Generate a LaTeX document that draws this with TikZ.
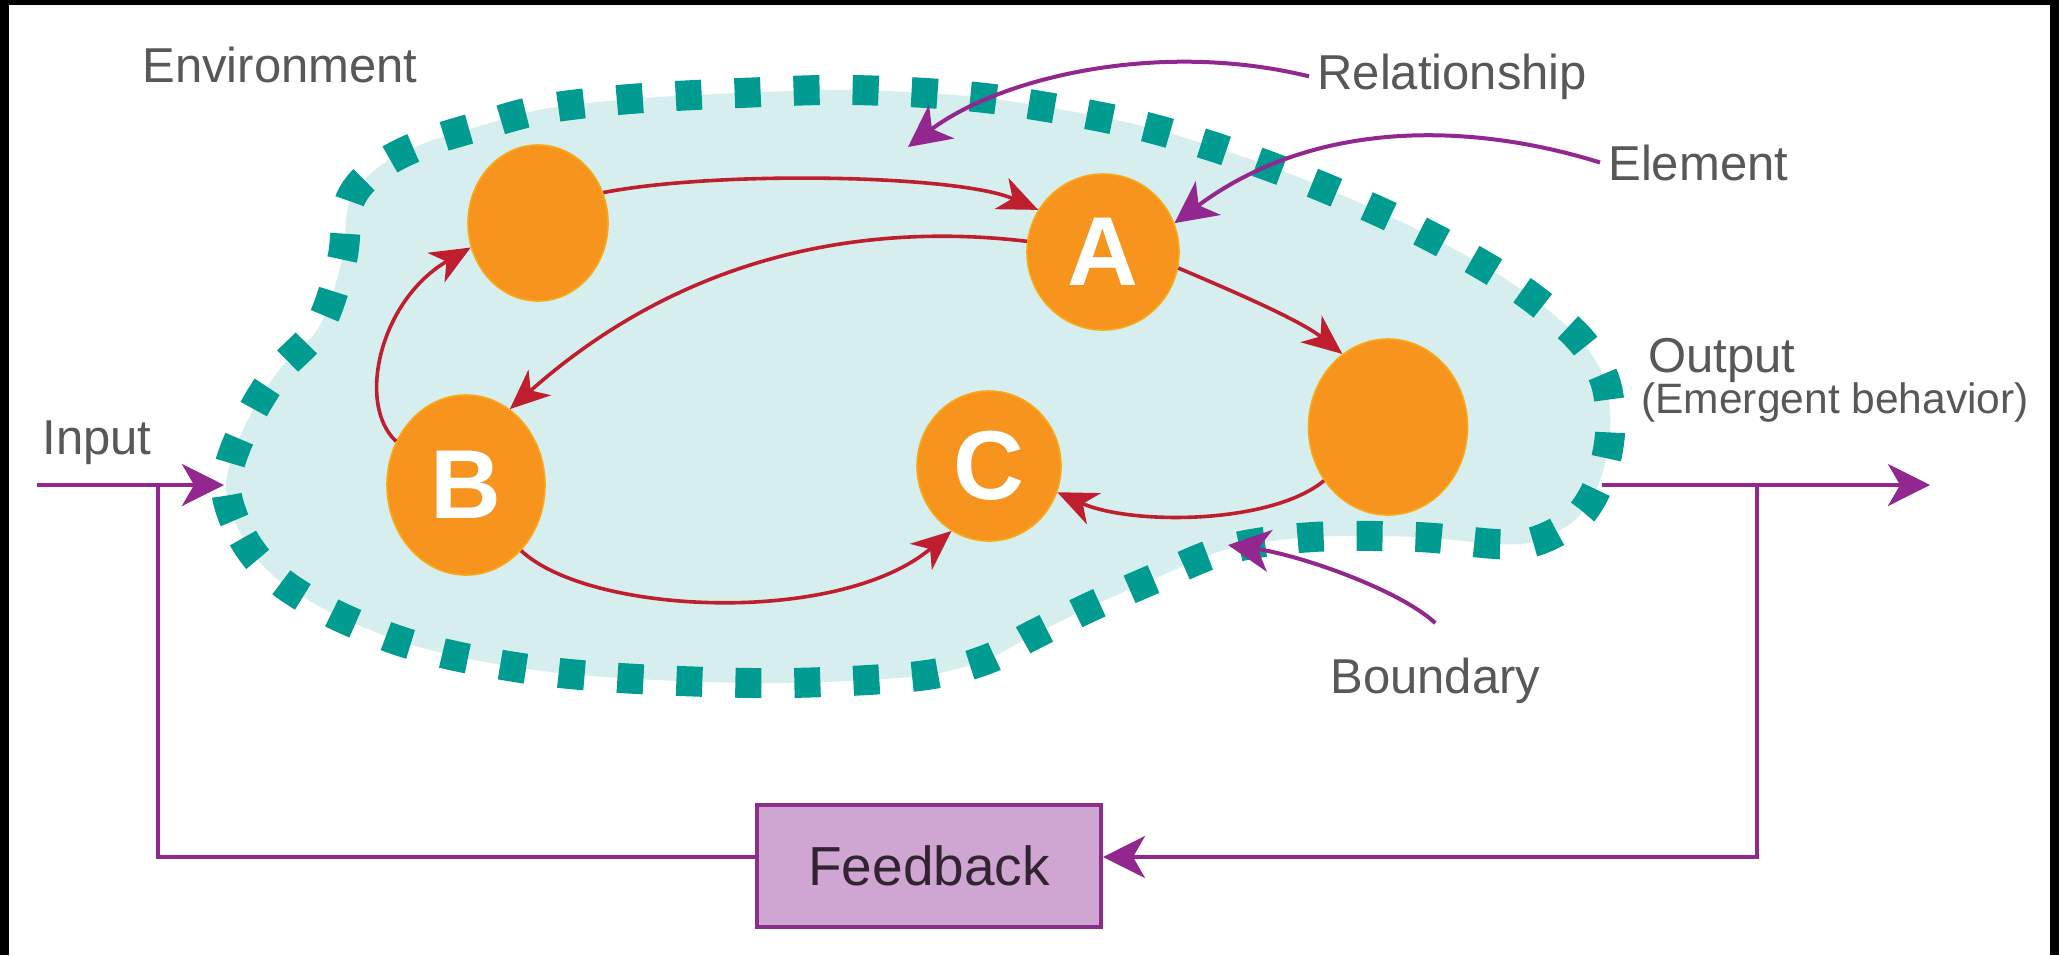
\documentclass[tikz,border=0pt]{standalone}
\usepackage{fontspec}
\setmainfont{Liberation Sans}
\usetikzlibrary{arrows.meta,shapes.geometric}
\definecolor{blobfill}{RGB}{214,238,238}
\definecolor{bndteal}{RGB}{0,155,145}
\definecolor{nodeorange}{RGB}{247,148,30}
\definecolor{linkred}{RGB}{190,30,45}
\definecolor{notepurple}{RGB}{146,39,143}
\definecolor{fbfill}{RGB}{207,166,210}
\definecolor{fbedge}{RGB}{140,45,140}
\definecolor{labelgray}{RGB}{88,88,90}
\definecolor{fbtext}{RGB}{50,35,50}
\begin{document}
\begin{tikzpicture}[x=0.5pt,y=-0.5pt,
  elem/.style={ellipse, fill=nodeorange, draw=nodeorange!80!yellow, line width=0.8pt,
    inner sep=0pt, text=white, font=\bfseries\fontsize{49}{49}\selectfont},
  lbl/.style={inner sep=0pt, anchor=base west, text=labelgray,
    font=\fontsize{24.5}{28}\selectfont},
  link/.style={draw=linkred, line width=1.8pt, -{Stealth[length=20pt,width=17pt,inset=6pt]}},
  note/.style={draw=notepurple, line width=2pt, -{Stealth[length=21pt,width=21pt,inset=6pt]}},
  wire/.style={draw=notepurple, line width=2pt},
  fbbox/.style={draw=fbedge, fill=fbfill, line width=2pt, minimum width=172pt,
    minimum height=61pt, inner sep=0pt, text=fbtext, font=\fontsize{27.5}{30}\selectfont}
]
% frame
\fill[black] (0,0) rectangle (2059,955);
\fill[white] (9,5) rectangle (2050,955);
\useasboundingbox (0,0) rectangle (2059,955);

% system region and its dashed boundary
\def\blobpath{plot[smooth cycle, tension=0.55] coordinates {
  (226,486) (243,538) (276,578) (328,611) (394,639) (460,657) (551,672) (657,680)
  (788,683) (919,676) (985,660) (1031,636) (1090,607) (1156,578) (1228,549)
  (1313,537) (1418,537) (1497,544) (1536,541) (1576,519) (1599,483) (1610,433)
  (1605,381) (1576,335) (1510,282) (1418,230) (1313,183) (1208,145) (1116,120)
  (985,98) (854,90) (740,93) (630,99) (544,109) (480,126) (425,143) (380,166)
  (350,200) (342,260) (319,327) (276,374) (243,430)}}
\fill[blobfill] \blobpath;
\draw[bndteal, line width=15pt, dash pattern=on 13pt off 16.5pt] \blobpath;

% elements
\node[elem, minimum width=70pt, minimum height=78pt] (E1) at (538,223) {};
\node[elem, minimum width=76pt, minimum height=78pt] (A) at (1103,252) {A};
\node[elem, minimum width=79pt, minimum height=90pt] (B) at (466,485) {B};
\node[elem, minimum width=72pt, minimum height=75pt] (C) at (989,466) {C};
\node[elem, minimum width=79.5pt, minimum height=88pt] (E2) at (1388,427) {};

% relationships
\draw[link] (E1.25) .. controls (720,170) and (960,175) .. (A.147);
\draw[link] (A.172) .. controls (890,225) and (699,241) .. (B.60);
\draw[link] (B.148) .. controls (356,404) and (380,300) .. (E1.200);
\draw[link] (B.-50) .. controls (590,615) and (839,626) .. (C.240);
\draw[link] (A.-12) .. controls (1230,290) and (1300,320) .. (E2.122);
\draw[link] (E2.220) .. controls (1270,525) and (1130,525) .. (C.-21);

% labels
\node[lbl] (env) at (142,82) {Environment};
\node[lbl] (rel) at (1317,89) {Relationship};
\node[lbl] (elt) at (1608,180) {Element};
\node[lbl] (out) at (1648,372) {Output};
\node[lbl, font=\fontsize{21.25}{24}\selectfont] (emb) at (1641,413) {(Emergent behavior)};
\node[lbl] (inp) at (42,454) {Input};
\node[lbl] (bnd) at (1330,693) {Boundary};
\node[fbbox] (fb) at (929,866) {Feedback};

% callouts
\coordinate (relTip) at (908,147);
\coordinate (bndTip) at (1228,545);
\draw[note] ([xshift=-4pt]rel.west) .. controls (1156,39) and (998,79) .. (relTip);
\draw[note] ([xshift=-4pt]elt.west) .. controls (1480,125) and (1320,115) .. (A.22);
\draw[note] ([yshift=17pt]bnd.north) .. controls (1400,590) and (1300,555) .. (bndTip);

% input, output and feedback loop
\coordinate (inStart) at (37,485);
\coordinate (inEnd) at (224,485);
\coordinate (inJoin) at (158,485);
\coordinate (outStart) at (1602,485);
\coordinate (outEnd) at (1930,485);
\coordinate (outJoin) at (1757,485);
\draw[note] (inStart) -- (inEnd);
\draw[note] (outStart) -- (outEnd);
\draw[note] (outJoin) |- ([yshift=4.5pt]fb.east);
\draw[wire] ([yshift=4.5pt]fb.west) -| (inJoin);
\end{tikzpicture}
\end{document}
